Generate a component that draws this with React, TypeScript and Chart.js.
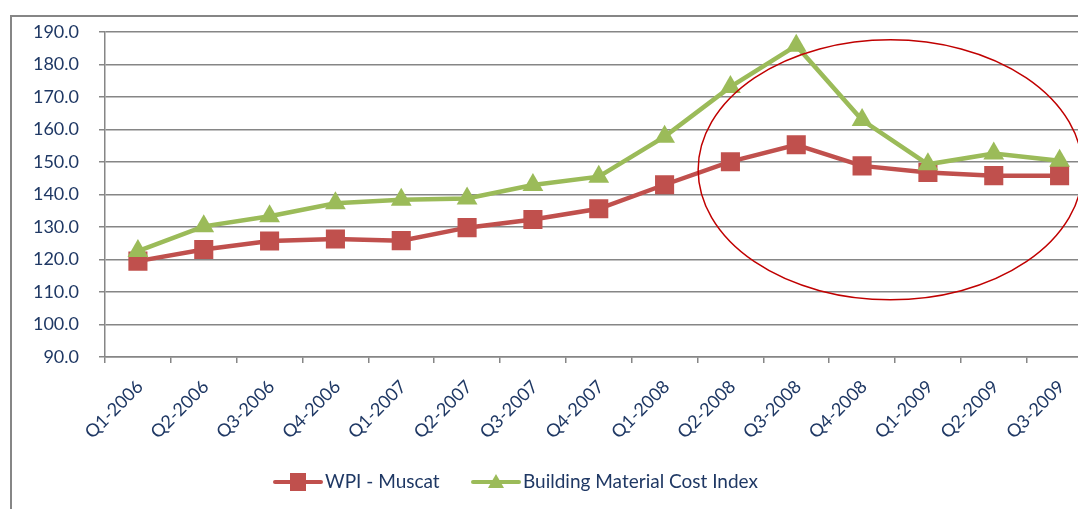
import React, { useEffect, useRef } from 'react';
import { Chart, registerables } from 'chart.js';

Chart.register(...registerables);

const categories = [
  'Q1-2006', 'Q2-2006', 'Q3-2006', 'Q4-2006',
  'Q1-2007', 'Q2-2007', 'Q3-2007', 'Q4-2007',
  'Q1-2008', 'Q2-2008', 'Q3-2008', 'Q4-2008',
  'Q1-2009', 'Q2-2009', 'Q3-2009',
];
const wpiMuscat = [119.5, 123.1, 125.7, 126.3, 125.8, 129.8, 132.3, 135.6, 143.0, 150.1, 155.3, 148.8, 146.8, 145.8, 145.8];
const buildingMaterial = [122.6, 130.2, 133.3, 137.3, 138.4, 138.8, 142.9, 145.5, 157.8, 173.1, 185.8, 162.9, 149.3, 152.6, 150.4];
const seriesNames = ['WPI - Muscat', 'Building Material Cost Index'];
const yMin = 90;
const yMax = 190;
const yStep = 10;
// highlight ellipse (category index / value units)
const ellipseCenter = [11.43, 147.6];
const ellipseRadii = [2.92, 40];

const RED = '#C0504D';
const GREEN = '#9BBB59';
const TEXT = '#1F3864';
const GRID = '#868686';
const FONT = 'Lato';

const overlayPlugin = {
  id: 'overlay',
  afterDatasetsDraw(chart: any) {
    const { ctx, scales } = chart;
    const x = scales.x;
    const y = scales.y;
    const cx = x.getPixelForValue(ellipseCenter[0]);
    const cy = y.getPixelForValue(ellipseCenter[1]);
    const rx = x.getPixelForValue(ellipseCenter[0] + ellipseRadii[0]) - cx;
    const ry = cy - y.getPixelForValue(ellipseCenter[1] + ellipseRadii[1]);
    ctx.save();
    ctx.beginPath();
    ctx.ellipse(cx, cy, rx, ry, 0, 0, Math.PI * 2);
    ctx.strokeStyle = '#C00000';
    ctx.lineWidth = 1.5;
    ctx.stroke();
    ctx.restore();
  },
  afterDraw(chart: any) {
    const { ctx } = chart;
    const items = [
      { label: seriesNames[0], color: RED, style: 'rect', x: 275 },
      { label: seriesNames[1], color: GREEN, style: 'triangle', x: 473 },
    ];
    const yc = 482;
    ctx.save();
    ctx.font = `19px ${FONT}`;
    ctx.textBaseline = 'middle';
    ctx.textAlign = 'left';
    items.forEach((it) => {
      const xPos = it.x;
      ctx.strokeStyle = it.color;
      ctx.fillStyle = it.color;
      ctx.lineWidth = 4;
      ctx.lineCap = 'round';
      ctx.beginPath();
      ctx.moveTo(xPos, yc);
      ctx.lineTo(xPos + 46, yc);
      ctx.stroke();
      const mx = xPos + 23;
      if (it.style === 'rect') {
        ctx.fillRect(mx - 8, yc - 9, 16, 18);
      } else {
        ctx.beginPath();
        ctx.moveTo(mx, yc - 8);
        ctx.lineTo(mx + 8, yc + 6);
        ctx.lineTo(mx - 8, yc + 6);
        ctx.closePath();
        ctx.fill();
      }
      ctx.fillStyle = TEXT;
      ctx.fillText(it.label, xPos + 50, yc);
    });
    ctx.restore();
  },
};

export default function App() {
  const ref = useRef<HTMLCanvasElement>(null);
  useEffect(() => {
    if (!ref.current) return;
    const chart = new Chart(ref.current, {
      type: 'line',
      data: {
        labels: categories,
        datasets: [
          {
            label: seriesNames[0],
            data: wpiMuscat,
            borderColor: RED,
            backgroundColor: RED,
            borderWidth: 4.5,
            pointStyle: 'rect',
            pointRadius: 13.5,
            pointBorderWidth: 0,
            tension: 0,
            order: 1,
          },
          {
            label: seriesNames[1],
            data: buildingMaterial,
            borderColor: GREEN,
            backgroundColor: GREEN,
            borderWidth: 4.5,
            pointStyle: 'triangle',
            pointRadius: 12,
            pointBorderWidth: 0,
            tension: 0,
            order: 0,
          },
        ],
      },
      options: {
        responsive: false,
        animation: false,
        layout: { padding: { top: 32, left: 0, right: 0, bottom: 0 } },
        plugins: { legend: { display: false }, tooltip: { enabled: false } },
        scales: {
          x: {
            offset: true,
            grid: { offset: true, drawOnChartArea: false, drawTicks: true, tickLength: 6, color: GRID, lineWidth: 1.5 },
            border: { color: GRID, width: 1.5 },
            ticks: { color: TEXT, font: { family: FONT, size: 18 }, minRotation: 45, maxRotation: 45, padding: 13, labelOffset: 2, autoSkip: false },
            afterFit(scale: any) { scale.height = 152; },
          },
          y: {
            min: yMin,
            max: yMax,
            grid: { color: GRID, lineWidth: 1.5, tickLength: 6 },
            border: { color: GRID, width: 1.5 },
            ticks: {
              stepSize: yStep,
              color: TEXT,
              font: { family: FONT, size: 18 },
              padding: 20,
              callback: (v: any) => Number(v).toFixed(1),
            },
            afterFit(scale: any) { scale.width = 105; },
          },
        },
      },
      plugins: [overlayPlugin],
    });
    return () => chart.destroy();
  }, []);
  return (
    <div style={{ position: 'fixed', left: 0, top: 0, width: 1078, height: 509, overflow: 'hidden', background: '#fff' }}>
      <div style={{ position: 'absolute', left: 10, top: 15, width: 1200, height: 700, borderTop: `2px solid ${GRID}`, borderLeft: `2px solid ${GRID}`, boxSizing: 'border-box' }} />
      <canvas ref={ref} width={1106} height={509} style={{ position: 'absolute', left: 0, top: 0, width: 1106, height: 509 }} />
    </div>
  );
}
